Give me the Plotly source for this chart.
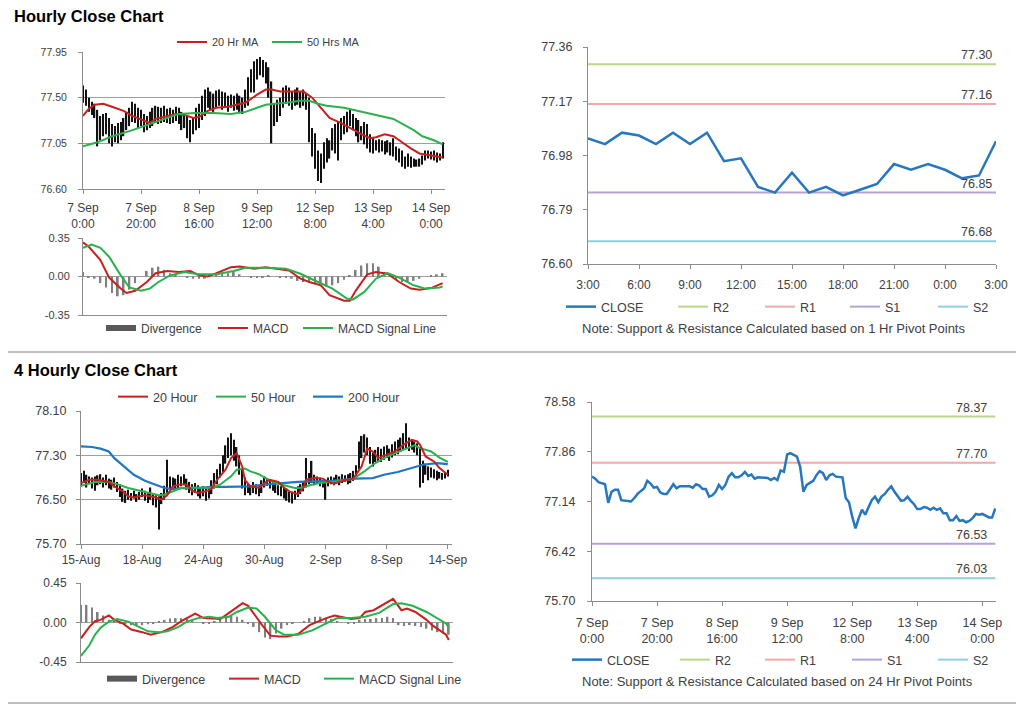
import plotly.graph_objects as go

W, H = 1024, 706
OX, OY = 8, 8   # page body offset of the figure inside the browser window

# ---------------- DATA ----------------
# Hourly series (7 Sep 0:00 -> 14 Sep), one value per hourly bar
hourly_close = [
    77.50, 77.47, 77.42, 77.40, 77.39, 77.12, 77.28, 77.31, 77.31, 77.16,
    77.15, 77.14, 77.14, 77.19, 77.25, 77.29, 77.33, 77.44, 77.40, 77.34,
    77.35, 77.27, 77.25, 77.25, 77.33, 77.39, 77.33, 77.36, 77.36, 77.36,
    77.36, 77.34, 77.39, 77.37, 77.32, 77.32, 77.21, 77.23, 77.28, 77.38,
    77.32, 77.38, 77.50, 77.55, 77.49, 77.49, 77.52, 77.57, 77.51, 77.53,
    77.47, 77.49, 77.49, 77.49, 77.48, 77.45, 77.48, 77.45, 77.59, 77.57,
    77.82, 77.84, 77.81, 77.79, 77.64, 77.28, 77.38, 77.41, 77.44, 77.52,
    77.58, 77.55, 77.45, 77.52, 77.54, 77.50, 77.50, 77.49, 77.19, 77.13,
    76.92, 76.75, 76.90, 77.02, 76.95, 77.05, 77.16, 77.21, 77.13, 77.21,
    77.25, 77.31, 77.36, 77.28, 77.21, 77.15, 77.16, 77.21, 77.15, 77.10,
    77.03, 77.03, 77.06, 77.05, 77.02, 77.05, 77.02, 77.04, 76.97, 76.97,
    76.87, 76.87, 76.93, 76.86, 76.87, 76.84, 76.86, 76.90, 76.96, 76.95,
    76.96, 76.94, 76.91, 76.91, 77.04]
hourly_low = [
    77.45, 77.42, 77.36, 77.33, 77.30, 77.02, 77.08, 77.12, 77.14, 77.05,
    77.02, 77.06, 77.05, 77.08, 77.12, 77.18, 77.22, 77.26, 77.25, 77.20,
    77.22, 77.16, 77.18, 77.20, 77.22, 77.26, 77.24, 77.25, 77.26, 77.25,
    77.24, 77.25, 77.27, 77.24, 77.18, 77.20, 77.10, 77.06, 77.14, 77.18,
    77.20, 77.28, 77.32, 77.40, 77.38, 77.36, 77.40, 77.42, 77.38, 77.40,
    77.36, 77.40, 77.37, 77.38, 77.36, 77.34, 77.40, 77.42, 77.55, 77.55,
    77.68, 77.72, 77.70, 77.64, 77.50, 77.05, 77.22, 77.26, 77.32, 77.40,
    77.44, 77.42, 77.38, 77.42, 77.43, 77.40, 77.42, 77.38, 77.06, 76.92,
    76.80, 76.68, 76.66, 76.80, 76.86, 76.90, 76.98, 76.95, 76.88, 77.08,
    77.14, 77.16, 77.22, 77.18, 77.12, 77.06, 77.08, 77.04, 77.00, 76.96,
    76.95, 76.98, 76.96, 76.97, 76.94, 76.96, 76.93, 76.92, 76.88, 76.86,
    76.82, 76.80, 76.82, 76.81, 76.82, 76.82, 76.82, 76.84, 76.88, 76.90,
    76.89, 76.88, 76.86, 76.88, 76.90]
hourly_high = [
    77.62, 77.58, 77.50, 77.46, 77.44, 77.38, 77.32, 77.34, 77.35, 77.30,
    77.24, 77.22, 77.25, 77.26, 77.30, 77.36, 77.40, 77.46, 77.44, 77.40,
    77.38, 77.34, 77.32, 77.36, 77.40, 77.42, 77.41, 77.40, 77.42, 77.39,
    77.40, 77.38, 77.41, 77.40, 77.36, 77.34, 77.32, 77.28, 77.31, 77.40,
    77.44, 77.52, 77.58, 77.60, 77.56, 77.54, 77.57, 77.58, 77.56, 77.55,
    77.52, 77.53, 77.52, 77.54, 77.52, 77.50, 77.58, 77.70, 77.78, 77.86,
    77.88, 77.90, 77.87, 77.85, 77.80, 77.66, 77.44, 77.48, 77.50, 77.60,
    77.62, 77.60, 77.56, 77.58, 77.60, 77.56, 77.58, 77.54, 77.50, 77.20,
    77.15, 76.98, 76.95, 77.06, 77.10, 77.08, 77.20, 77.24, 77.26, 77.30,
    77.32, 77.36, 77.38, 77.34, 77.30, 77.28, 77.22, 77.26, 77.24, 77.14,
    77.10, 77.08, 77.09, 77.08, 77.07, 77.08, 77.06, 77.10, 77.02, 77.00,
    76.98, 76.92, 76.95, 76.92, 76.90, 76.89, 76.90, 76.93, 76.98, 76.98,
    76.97, 76.98, 76.96, 76.95, 77.06]
hourly_tick_pos = [0, 20, 40, 60, 80, 100, 120]
hourly_tick_text = ["7 Sep<br>0:00", "7 Sep<br>20:00", "8 Sep<br>16:00", "9 Sep<br>12:00",
                    "12 Sep<br>8:00", "13 Sep<br>4:00", "14 Sep<br>0:00"]

ma20_pos = [0, 2, 4, 7, 10, 14, 17, 21, 23, 25, 29, 32, 35, 38, 40, 43, 46, 50, 53, 56, 60,
            63, 65, 68, 72, 76, 79, 82, 85, 89, 92, 96, 99, 101, 104, 107, 109, 113, 116, 120, 124]
ma20_val = [77.32, 77.39, 77.43, 77.44, 77.41, 77.37, 77.32, 77.27, 77.25, 77.29, 77.32, 77.34,
            77.33, 77.30, 77.31, 77.37, 77.40, 77.41, 77.43, 77.45, 77.53, 77.58, 77.58, 77.56,
            77.56, 77.56, 77.50, 77.40, 77.30, 77.25, 77.20, 77.14, 77.10, 77.11, 77.14, 77.12,
            77.08, 77.00, 76.95, 76.93, 76.91]
ma50_pos = [0, 5, 10, 16, 22, 28, 33, 39, 45, 51, 56, 60, 63, 66, 70, 75, 78, 81, 84, 90, 95,
            101, 107, 110, 114, 117, 121, 124]
ma50_val = [77.02, 77.06, 77.12, 77.17, 77.23, 77.29, 77.34, 77.35, 77.35, 77.34, 77.36, 77.40,
            77.43, 77.44, 77.45, 77.47, 77.47, 77.44, 77.42, 77.40, 77.37, 77.33, 77.29, 77.24,
            77.18, 77.12, 77.08, 77.04]

macd1_pos = [0, 2, 6, 9, 13, 15, 18, 22, 25, 29, 33, 37, 40, 43, 46, 51, 54, 59, 63, 68, 71, 75,
             78, 82, 85, 90, 92, 94, 98, 101, 105, 109, 113, 116, 120, 124]
macd1_val = [0.31, 0.27, 0.15, -0.01, -0.11, -0.15, -0.13, -0.05, 0.03, 0.05, 0.04, 0.05, 0.01,
             0.00, 0.03, 0.085, 0.09, 0.07, 0.085, 0.07, 0.055, -0.02, -0.05, -0.08, -0.17, -0.22,
             -0.22, -0.13, 0.02, 0.04, 0.025, -0.05, -0.11, -0.12, -0.105, -0.06]
sig1_pos = [0, 3, 6, 9, 13, 16, 20, 23, 26, 30, 35, 40, 46, 52, 56, 63, 70, 75, 81, 86, 91, 93,
            97, 101, 105, 109, 114, 118, 123, 124]
sig1_val = [0.26, 0.29, 0.26, 0.18, 0.01, -0.10, -0.13, -0.11, -0.05, 0.01, 0.04, 0.02, 0.02,
            0.05, 0.08, 0.08, 0.07, 0.025, -0.05, -0.11, -0.20, -0.21, -0.14, -0.02, 0.03, -0.01,
            -0.08, -0.11, -0.10, -0.09]
div1_pos = list(range(0, 125, 2))
div1_val = [0.04, -0.01, -0.02, -0.06, -0.10, -0.15, -0.18, -0.17, -0.12, -0.06,
            0.00, 0.05, 0.08, 0.09, 0.06, 0.03, 0.01, 0.00, -0.01, -0.02,
            -0.02, -0.02, 0.00, 0.01, 0.03, 0.03, 0.04, 0.02, 0.00, -0.01,
            -0.01, -0.01, 0.01, 0.00, -0.01, -0.01, -0.02, -0.04, -0.05, -0.05,
            -0.06, -0.07, -0.09, -0.08, -0.06, -0.03, 0.01, 0.06, 0.10, 0.12,
            0.12, 0.09, 0.04, 0.00, -0.03, -0.05, -0.05, -0.04, -0.02, 0.00,
            0.01, 0.02, 0.03]

# 1-hour pivot chart
pivot1_ticks = ["3:00", "6:00", "9:00", "12:00", "15:00", "18:00", "21:00", "0:00", "3:00"]
pivot1_close = [77.04, 77.02, 77.06, 77.05, 77.02, 77.06, 77.02, 77.06, 76.96, 76.97, 76.87,
                76.85, 76.92, 76.85, 76.87, 76.84, 76.86, 76.88, 76.95, 76.93, 76.95, 76.93,
                76.90, 76.91, 77.03]
level_names = ["R2", "R1", "S1", "S2"]
pivot1_levels = [77.30, 77.16, 76.85, 76.68]
pivot24_levels = [78.37, 77.70, 76.53, 76.03]

# 4-hourly series (15 Aug -> 14 Sep)
h4_low = [
    76.74, 76.80, 76.72, 76.78, 76.70, 76.66, 76.76, 76.78, 76.72, 76.76,
    76.70, 76.68, 76.72, 76.64, 76.55, 76.46, 76.44, 76.50, 76.48, 76.52,
    76.46, 76.50, 76.55, 76.48, 76.44, 76.50, 76.40, 76.36, 75.96, 76.42,
    76.50, 76.62, 76.70, 76.72, 76.68, 76.70, 76.74, 76.78, 76.68, 76.62,
    76.58, 76.62, 76.56, 76.52, 76.56, 76.48, 76.52, 76.60, 76.70, 76.78,
    76.90, 77.00, 77.15, 77.25, 77.30, 77.20, 77.10, 76.95, 76.70, 76.58,
    76.62, 76.58, 76.62, 76.60, 76.56, 76.62, 76.72, 76.75, 76.70, 76.66,
    76.62, 76.58, 76.56, 76.52, 76.48, 76.45, 76.43, 76.50, 76.55, 76.60,
    76.65, 76.72, 76.78, 76.80, 76.76, 76.80, 76.74, 76.72, 76.50, 76.74,
    76.78, 76.76, 76.80, 76.76, 76.80, 76.82, 76.78, 76.80, 76.84, 76.90,
    77.05, 77.25, 77.35, 77.30, 77.15, 77.10, 77.18, 77.20, 77.18, 77.22,
    77.25, 77.20, 77.26, 77.30, 77.32, 77.36, 77.40, 77.42, 77.38, 77.40,
    77.35, 77.30, 76.72, 76.80, 76.95, 76.85, 76.90, 76.88, 76.85, 76.88,
    76.86, 76.88, 76.92]
h4_high = [
    76.98, 77.02, 76.95, 76.92, 76.90, 76.92, 76.94, 76.96, 76.90, 76.95,
    76.88, 76.86, 76.90, 76.82, 76.78, 76.70, 76.66, 76.68, 76.62, 76.66,
    76.60, 76.64, 76.70, 76.66, 76.62, 76.72, 76.60, 76.58, 76.56, 76.62,
    76.75, 77.22, 76.92, 76.90, 76.88, 76.95, 76.92, 76.96, 76.88, 76.82,
    76.78, 76.80, 76.76, 76.72, 76.74, 76.70, 76.72, 76.85, 76.98, 77.05,
    77.15, 77.30, 77.48, 77.62, 77.70, 77.58, 77.45, 77.30, 77.05, 76.90,
    76.80, 76.76, 76.82, 76.78, 76.74, 76.85, 76.92, 76.88, 76.86, 76.85,
    76.80, 76.76, 76.74, 76.72, 76.70, 76.64, 76.62, 76.66, 76.74, 76.78,
    76.82, 77.25, 76.98, 77.20, 76.95, 76.92, 76.90, 76.86, 76.84, 76.90,
    76.92, 76.90, 76.95, 76.92, 76.96, 76.94, 76.96, 76.98, 77.02, 77.12,
    77.55, 77.65, 77.68, 77.62, 77.45, 77.35, 77.40, 77.45, 77.42, 77.46,
    77.48, 77.42, 77.50, 77.55, 77.58, 77.62, 77.70, 77.88, 77.62, 77.58,
    77.55, 77.52, 77.45, 77.20, 77.15, 77.10, 77.08, 77.05, 77.02, 77.00,
    76.98, 77.00, 77.04]
h4_tick_pos = [0, 22, 44, 66, 88, 110, 132]
h4_tick_text = ["15-Aug", "18-Aug", "24-Aug", "30-Aug", "2-Sep", "8-Sep", "14-Sep"]

h4_ma20_pos = [0, 3, 6, 10, 12, 15, 17, 19, 23, 27, 29, 31, 33, 36, 38, 40, 42, 45, 47, 49, 52,
               54, 56, 58, 59, 61, 64, 66, 68, 71, 73, 75, 78, 80, 81, 84, 87, 89, 91, 95, 98,
               101, 103, 105, 107, 110, 113, 116, 119, 121, 122, 124, 127, 129, 132]
h4_ma20_val = [76.80, 76.86, 76.86, 76.82, 76.74, 76.65, 76.56, 76.54, 76.58, 76.54, 76.50,
               76.58, 76.74, 76.78, 76.77, 76.66, 76.62, 76.65, 76.70, 76.86, 77.04, 77.25,
               77.34, 77.10, 76.85, 76.74, 76.71, 76.80, 76.86, 76.82, 76.72, 76.65, 76.60,
               76.71, 76.86, 76.89, 76.88, 76.82, 76.79, 76.85, 76.88, 77.10, 77.42, 77.37,
               77.25, 77.31, 77.37, 77.49, 77.58, 77.55, 77.49, 77.28, 77.19, 77.07, 76.95]
h4_ma50_pos = [0, 5, 10, 13, 17, 21, 24, 28, 30, 33, 36, 40, 43, 47, 50, 54, 56, 59, 61, 64, 66,
               69, 73, 77, 79, 83, 86, 90, 95, 98, 102, 105, 109, 113, 116, 120, 122, 126, 129, 132]
h4_ma50_val = [76.75, 76.82, 76.82, 76.78, 76.71, 76.66, 76.62, 76.58, 76.59, 76.65, 76.71,
               76.72, 76.71, 76.71, 76.77, 76.92, 77.04, 77.06, 77.01, 76.96, 76.90, 76.82,
               76.76, 76.71, 76.71, 76.77, 76.80, 76.82, 76.84, 76.88, 77.01, 77.13, 77.25,
               77.34, 77.40, 77.48, 77.43, 77.37, 77.26, 77.18]
h4_ma200_pos = [0, 4, 7, 10, 12, 16, 19, 23, 27, 30, 33, 37, 42, 47, 52, 56, 61, 66, 78, 90, 99,
                105, 109, 114, 119, 123, 128, 132]
h4_ma200_val = [77.46, 77.45, 77.42, 77.37, 77.25, 77.08, 76.95, 76.84, 76.76, 76.71, 76.69,
                76.71, 76.71, 76.73, 76.73, 76.74, 76.74, 76.77, 76.82, 76.84, 76.88, 76.89,
                76.95, 77.00, 77.07, 77.13, 77.16, 77.14]

macd4_pos = [0, 3, 5, 7, 10, 12, 15, 18, 22, 25, 29, 33, 36, 40, 41, 44, 48, 50, 54, 58, 60, 62,
             65, 68, 71, 74, 78, 82, 85, 88, 91, 94, 97, 100, 102, 105, 107, 110, 112, 115, 117,
             120, 124, 126, 128, 131, 132]
macd4_val = [-0.18, -0.05, 0.015, 0.03, 0.08, 0.03, -0.01, -0.08, -0.11, -0.14, -0.11, -0.05,
             0.015, 0.08, 0.10, 0.05, 0.04, 0.04, 0.13, 0.22, 0.19, 0.10, -0.03, -0.15, -0.16,
             -0.16, -0.13, -0.03, 0.01, 0.05, 0.08, 0.06, 0.04, 0.05, 0.12, 0.14, 0.18, 0.24,
             0.27, 0.14, 0.16, 0.12, 0.03, -0.03, -0.07, -0.14, -0.20]
sig4_pos = [0, 3, 5, 7, 10, 13, 17, 21, 24, 28, 31, 35, 38, 42, 46, 49, 53, 56, 60, 63, 66, 70,
            73, 78, 83, 88, 92, 97, 102, 107, 112, 115, 119, 124, 128, 131, 132]
sig4_val = [-0.38, -0.26, -0.14, -0.06, 0.01, 0.04, 0.01, -0.05, -0.10, -0.11, -0.10, -0.05,
            0.01, 0.05, 0.065, 0.05, 0.065, 0.12, 0.17, 0.16, 0.065, -0.09, -0.14, -0.14, -0.09,
            -0.01, 0.05, 0.05, 0.065, 0.11, 0.21, 0.22, 0.19, 0.12, 0.05, -0.01, -0.06]
div4_pos = list(range(0, 133, 2))
div4_val = [0.20, 0.20, 0.17, 0.12, 0.08, 0.03, 0.01, -0.015, -0.015, -0.03,
            -0.03, -0.03, -0.02, -0.01, 0.01, 0.03, 0.045, 0.05, 0.05, 0.045,
            0.03, 0.0, -0.015, -0.01, 0.01, 0.03, 0.05, 0.075, 0.065, 0.03,
            -0.01, -0.05, -0.11, -0.17, -0.19, -0.125, -0.07, -0.03, -0.01, 0.0,
            0.015, 0.05, 0.065, 0.065, 0.05, 0.04, 0.015, 0.0, -0.01, -0.01,
            0.03, 0.04, 0.04, 0.05, 0.05, 0.065, 0.05, -0.03, -0.04, -0.03,
            -0.04, -0.05, -0.07, -0.09, -0.11, -0.125, -0.14]

# ---------------- STYLE ----------------
RED = "#C8201E"
GREEN = "#2BB04E"
BLUE = "#1F77C4"
CLOSE_BLUE = "#2777BF"
LEVEL_COLORS = ["#B9D789", "#EFA9A9", "#B7A1D6", "#8FCFE0"]
GRAY_BAR = "#7F7F7F"
AXIS = "#8C8C8C"
GRID = "#9E9E9E"
TXT = "#404040"
FONT = "Liberation Sans, Arial, sans-serif"


def px_x(px):
    return (px - OX) / W


def px_y(py):
    return 1 - (py - OY) / H


def dx(x0, x1):
    return [px_x(x0), px_x(x1)]


def dy(y0, y1):
    return [px_y(y1), px_y(y0)]


fig = go.Figure()

# ---- Panel 1: hourly bars + MAs ----
fig.add_trace(go.Bar(x=list(range(len(hourly_low))), base=hourly_low,
                     y=[h - l for h, l in zip(hourly_high, hourly_low)],
                     width=0.45, marker=dict(color="#111111", line=dict(width=0)),
                     showlegend=False, xaxis="x", yaxis="y"))
fig.add_trace(go.Scatter(x=ma20_pos, y=ma20_val, mode="lines", name="20 Hr MA",
                         line=dict(color=RED, width=2), xaxis="x", yaxis="y",
                         legend="legend", legendwidth=50))
fig.add_trace(go.Scatter(x=ma50_pos, y=ma50_val, mode="lines", name="50 Hrs MA",
                         line=dict(color=GREEN, width=2), xaxis="x", yaxis="y",
                         legend="legend"))

# ---- Panel 2: hourly MACD ----
fig.add_trace(go.Bar(x=div1_pos, y=div1_val, width=0.6,
                     marker=dict(color=GRAY_BAR, line=dict(width=0)),
                     showlegend=False, xaxis="x2", yaxis="y2"))
fig.add_trace(go.Scatter(x=[None], y=[None], mode="lines", name="Divergence",
                         line=dict(color="#595959", width=6), xaxis="x2", yaxis="y2",
                         legend="legend2", legendwidth=67))
fig.add_trace(go.Scatter(x=macd1_pos, y=macd1_val, mode="lines", name="MACD",
                         line=dict(color=RED, width=2), xaxis="x2", yaxis="y2",
                         legend="legend2", legendwidth=40))
fig.add_trace(go.Scatter(x=sig1_pos, y=sig1_val, mode="lines", name="MACD Signal Line",
                         line=dict(color=GREEN, width=2), xaxis="x2", yaxis="y2",
                         legend="legend2"))

# ---- Panel 3: 1 Hr pivot chart ----
n1 = len(pivot1_close)
p3_widths = [42, 40, 43, 30]
for name, lvl, col, lw in zip(level_names, pivot1_levels, LEVEL_COLORS, p3_widths):
    fig.add_trace(go.Scatter(x=[0, n1 - 1], y=[lvl, lvl], mode="lines", name=name,
                             line=dict(color=col, width=2), xaxis="x3", yaxis="y3",
                             legend="legend3", legendwidth=lw))
fig.add_trace(go.Scatter(x=list(range(n1)), y=pivot1_close, mode="lines", name="CLOSE",
                         line=dict(color=CLOSE_BLUE, width=2.5), xaxis="x3", yaxis="y3",
                         legend="legend3", legendwidth=67, legendrank=1))

# ---- Panel 4: 4-hourly bars + MAs ----
fig.add_trace(go.Bar(x=list(range(len(h4_low))), base=h4_low,
                     y=[h - l for h, l in zip(h4_high, h4_low)],
                     width=0.5, marker=dict(color="#111111", line=dict(width=0)),
                     showlegend=False, xaxis="x4", yaxis="y4"))
fig.add_trace(go.Scatter(x=h4_ma200_pos, y=h4_ma200_val, mode="lines", name="200 Hour",
                         line=dict(color=BLUE, width=2.2), xaxis="x4", yaxis="y4",
                         legend="legend4", legendrank=3))
fig.add_trace(go.Scatter(x=h4_ma50_pos, y=h4_ma50_val, mode="lines", name="50 Hour",
                         line=dict(color=GREEN, width=2), xaxis="x4", yaxis="y4",
                         legend="legend4", legendwidth=52, legendrank=2))
fig.add_trace(go.Scatter(x=h4_ma20_pos, y=h4_ma20_val, mode="lines", name="20 Hour",
                         line=dict(color=RED, width=2), xaxis="x4", yaxis="y4",
                         legend="legend4", legendwidth=53, legendrank=1))

# ---- Panel 5: 4-hourly MACD ----
fig.add_trace(go.Bar(x=div4_pos, y=div4_val, width=0.6,
                     marker=dict(color=GRAY_BAR, line=dict(width=0)),
                     showlegend=False, xaxis="x5", yaxis="y5"))
fig.add_trace(go.Scatter(x=[None], y=[None], mode="lines", name="Divergence",
                         line=dict(color="#595959", width=6), xaxis="x5", yaxis="y5",
                         legend="legend5", legendwidth=77))
fig.add_trace(go.Scatter(x=macd4_pos, y=macd4_val, mode="lines", name="MACD",
                         line=dict(color=RED, width=2), xaxis="x5", yaxis="y5",
                         legend="legend5", legendwidth=50))
fig.add_trace(go.Scatter(x=sig4_pos, y=sig4_val, mode="lines", name="MACD Signal Line",
                         line=dict(color=GREEN, width=2), xaxis="x5", yaxis="y5",
                         legend="legend5"))

# ---- Panel 6: 24 Hr pivot chart ----
n6 = len(hourly_close)
p6_widths = [40, 42, 41, 30]
for name, lvl, col, lw in zip(level_names, pivot24_levels, LEVEL_COLORS, p6_widths):
    fig.add_trace(go.Scatter(x=[0, n6 - 1], y=[lvl, lvl], mode="lines", name=name,
                             line=dict(color=col, width=2), xaxis="x6", yaxis="y6",
                             legend="legend6", legendwidth=lw))
fig.add_trace(go.Scatter(x=list(range(n6)), y=hourly_close, mode="lines", name="CLOSE",
                         line=dict(color=CLOSE_BLUE, width=2.5), xaxis="x6", yaxis="y6",
                         legend="legend6", legendwidth=63, legendrank=1))

# ---------------- AXES ----------------
base_ax = dict(showline=True, linecolor=AXIS, linewidth=1, ticks="outside", tickcolor=AXIS,
               ticklen=4, zeroline=False, fixedrange=True, automargin=False)


def xax(dom, rng, tv=None, tt=None, size=11, labels=True, standoff=0):
    d = dict(base_ax, domain=dom, range=rng, showgrid=False,
             tickfont=dict(size=size, color=TXT, family=FONT))
    if labels:
        d.update(tickmode="array", tickvals=tv, ticktext=tt, ticklabelstandoff=standoff)
    else:
        d.update(showticklabels=False, ticks="")
    return d


def yax(dom, rng, tv, grid, size=11, standoff=6):
    return dict(base_ax, domain=dom, range=rng, tickmode="array", tickvals=tv,
                ticktext=["%.2f" % v for v in tv], showgrid=grid, gridcolor=GRID, gridwidth=1,
                tickfont=dict(size=size, color=TXT, family=FONT), ticklabelstandoff=standoff)


fig.update_layout(
    xaxis=xax(dx(83, 445), [0, 124.8], hourly_tick_pos, hourly_tick_text, 12, standoff=4),
    yaxis=yax(dy(52, 189), [76.60, 77.95], [76.60, 77.05, 77.50, 77.95], True, 10.5, 9),
    xaxis2=xax(dx(83, 447), [0, 125.5], labels=False),
    yaxis2=yax(dy(238, 315), [-0.35, 0.35], [-0.35, 0.0, 0.35], True, 11, 6),
    xaxis3=xax(dx(588, 996), [0, 24], [0, 3, 6, 9, 12, 15, 18, 21, 24], pivot1_ticks, 12,
               standoff=6),
    yaxis3=yax(dy(47, 264), [76.60, 77.36], [76.60, 76.79, 76.98, 77.17, 77.36], False, 12.5, 8),
    xaxis4=xax(dx(81, 452), [0, 133.5], h4_tick_pos, h4_tick_text, 12, standoff=1),
    yaxis4=yax(dy(411, 544), [75.70, 78.10], [75.70, 76.50, 77.30, 78.10], True, 12.5, 7),
    xaxis5=xax(dx(81, 453), [0, 133.5], labels=False),
    yaxis5=yax(dy(583, 662), [-0.45, 0.45], [-0.45, 0.0, 0.45], True, 12, 7),
    xaxis6=xax(dx(592, 996), [0, 124.2], hourly_tick_pos, hourly_tick_text, 12.5, standoff=6),
    yaxis6=yax(dy(402, 601), [75.70, 78.58], [75.70, 76.42, 77.14, 77.86, 78.58], False, 12.5, 9),
)
for i in range(1, 7):
    s = "" if i == 1 else str(i)
    fig.layout["xaxis" + s].anchor = "y" + s
    fig.layout["yaxis" + s].anchor = "x" + s


def leg(px, py, size):
    return dict(orientation="h", x=px_x(px), y=px_y(py), xanchor="left", yanchor="middle",
                bgcolor="rgba(0,0,0,0)", font=dict(size=size, color=TXT, family=FONT),
                entrywidthmode="pixels", itemclick=False, itemdoubleclick=False,
                tracegroupgap=0)


fig.update_layout(
    legend=leg(172, 42, 11),
    legend2=leg(101, 328, 12),
    legend3=leg(561, 307, 12.5),
    legend4=leg(113, 397, 12.5),
    legend5=leg(102, 679, 12.5),
    legend6=leg(567, 660, 12.5),
)

# ---------------- ANNOTATIONS / SHAPES ----------------
ann = [
    dict(text="<b>Hourly Close Chart</b>", x=px_x(12), y=px_y(16), xref="paper", yref="paper",
         xanchor="left", yanchor="middle", showarrow=False,
         font=dict(size=16.5, color="black", family=FONT)),
    dict(text="<b>4 Hourly Close Chart</b>", x=px_x(12), y=px_y(370), xref="paper",
         yref="paper", xanchor="left", yanchor="middle", showarrow=False,
         font=dict(size=16.5, color="black", family=FONT)),
    dict(text="Note: Support & Resistance Calculated based on 1 Hr Pivot Points",
         x=px_x(773), y=px_y(328), xref="paper", yref="paper", xanchor="center",
         yanchor="middle", showarrow=False, font=dict(size=13, color=TXT, family=FONT)),
    dict(text="Note: Support & Resistance Calculated based on 24 Hr Pivot Points",
         x=px_x(777), y=px_y(681), xref="paper", yref="paper", xanchor="center",
         yanchor="middle", showarrow=False, font=dict(size=13, color=TXT, family=FONT)),
]
for lvl in pivot1_levels:
    ann.append(dict(text="%.2f" % lvl, x=1, y=lvl, xref="x3 domain", yref="y3",
                    xanchor="right", yanchor="bottom", xshift=-2, yshift=0, showarrow=False,
                    font=dict(size=12.5, color=TXT, family=FONT)))
for lvl in pivot24_levels:
    ann.append(dict(text="%.2f" % lvl, x=1, y=lvl, xref="x6 domain", yref="y6",
                    xanchor="right", yanchor="bottom", xshift=-7, yshift=0, showarrow=False,
                    font=dict(size=12.5, color=TXT, family=FONT)))

shapes = [
    dict(type="line", xref="paper", yref="paper", x0=px_x(6), x1=px_x(1020),
         y0=px_y(352), y1=px_y(352), line=dict(color="#808080", width=1)),
    dict(type="line", xref="paper", yref="paper", x0=px_x(6), x1=px_x(1020),
         y0=px_y(703), y1=px_y(703), line=dict(color="#808080", width=1)),
]

fig.update_layout(
    template="none",
    width=W, height=H, margin=dict(l=0, r=0, t=0, b=0, pad=0, autoexpand=False),
    paper_bgcolor="white", plot_bgcolor="white",
    font=dict(family=FONT, color=TXT),
    annotations=ann, shapes=shapes, showlegend=True, barmode="overlay",
)

fig.write_html("out.html")
